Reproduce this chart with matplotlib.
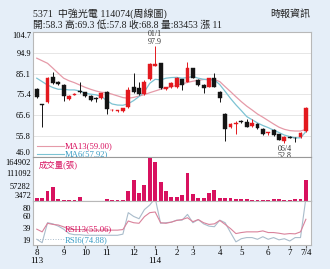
import numpy as np
import matplotlib.pyplot as plt

# weekly candles, 113/08 .. 114/07
opens = [77.8, 70.6, 72.0, 83.4, 81.4, 79.8, 73.1, 75.3, 76.9, 76.4,
         74.7, 73.4, 73.6, 76.7, 67.9, 67.6, 67.6, 69.3, 79.0, 78.3,
         75.6, 82.5, 88.9, 90.0, 77.8, 78.7, 78.7, 82.5, 81.4, 87.7,
         82.2, 79.8, 79.0, 83.2, 76.7, 66.1, 60.3, 61.6, 62.9, 62.3,
         60.6, 61.5, 59.2, 57.2, 58.7, 56.7, 53.5, 55.5, 55.1, 55.3,
         58.3]
closes = [74.3, 70.3, 83.0, 80.9, 80.2, 74.7, 74.7, 75.7, 76.5, 74.7,
          72.8, 73.2, 75.9, 68.4, 68.3, 67.9, 68.9, 77.5, 76.7, 75.5,
          81.4, 89.7, 89.5, 78.3, 78.7, 80.6, 83.0, 79.8, 87.7, 83.2,
          79.8, 78.3, 83.0, 79.0, 73.9, 59.2, 61.4, 62.0, 62.3, 60.3,
          62.1, 59.5, 56.8, 57.6, 56.3, 54.0, 55.5, 55.1, 54.7, 57.4,
          68.8]
highs = [78.5, 70.8, 83.5, 86.1, 81.8, 80.2, 75.2, 76.0, 81.4, 76.6,
         75.0, 74.4, 76.2, 77.2, 68.6, 68.2, 69.2, 79.0, 85.3, 81.4,
         82.0, 90.3, 97.9, 90.2, 79.0, 81.0, 83.4, 82.8, 90.8, 88.0,
         82.5, 80.1, 83.3, 85.6, 77.0, 66.5, 62.0, 63.0, 63.2, 63.8,
         63.8, 61.8, 59.5, 57.9, 59.0, 57.0, 55.8, 55.8, 55.4, 57.7,
         69.3]
lows = [73.8, 60.2, 71.5, 80.5, 79.8, 72.3, 72.6, 75.0, 76.2, 74.3,
        72.5, 71.9, 73.3, 66.2, 67.6, 67.3, 67.3, 69.0, 76.2, 75.0,
        75.2, 82.0, 88.6, 78.0, 77.5, 78.4, 78.4, 77.5, 81.0, 83.0,
        79.5, 75.9, 78.7, 78.7, 72.0, 53.7, 59.8, 57.0, 62.0, 60.0,
        60.3, 59.2, 56.5, 56.1, 56.0, 53.8, 52.8, 54.8, 53.2, 55.0,
        57.8]
ma13 = [92.4, 91.2, 90.0, 87.7, 85.3, 83.0, 81.8, 80.9, 79.8, 78.7,
        77.8, 77.0, 76.4, 76.2, 75.5, 74.7, 73.9, 73.6, 74.0, 74.6,
        75.3, 76.2, 77.0, 77.8, 78.4, 79.0, 79.7, 80.4, 81.0, 81.6,
        82.0, 82.4, 82.5, 82.4, 81.4, 79.0, 76.7, 74.3, 72.0, 69.9,
        68.1, 66.2, 64.7, 63.1, 61.5, 60.0, 59.0, 58.4, 58.2, 58.2,
        59.0]
ma6 = [83.0, 81.4, 79.8, 78.6, 77.8, 77.8, 77.5, 77.5, 77.0, 75.9,
       75.5, 75.2, 74.4, 72.5, 70.9, 70.4, 70.3, 71.0, 72.5, 74.4,
       76.7, 80.6, 82.5, 82.2, 83.0, 83.3, 83.4, 83.0, 83.3, 83.8,
       83.0, 82.5, 82.2, 82.2, 80.0, 76.8, 73.5, 70.5, 67.8, 65.0,
       63.5, 62.0, 60.8, 59.8, 58.6, 57.5, 56.3, 55.6, 55.0, 55.0,
       57.9]
volume = [12000, 13000, 41000, 54000, 8000, 5000, 4000, 2000, 16000, 1500,
          1500, 1500, 1500, 7000, 5000, 4000, 2000, 40000, 82000, 33000,
          64000, 170000, 152000, 73000, 40000, 17000, 17000, 23000, 112000, 29000,
          11000, 11000, 33000, 44000, 11000, 12000, 12000, 7000, 7000, 7000,
          5000, 5000, 3000, 4000, 7000, 7000, 5000, 3000, 7000, 7000,
          83453]
rsi13 = [37.7, 33.0, 48.0, 46.0, 45.0, 41.7, 37.7, 37.0, 37.0, 36.5,
         36.0, 36.0, 36.0, 36.0, 36.0, 36.0, 37.0, 52.0, 49.0, 48.0,
         59.6, 66.6, 67.8, 49.0, 48.0, 50.0, 53.0, 54.5, 57.7, 50.8,
         54.5, 49.0, 46.0, 47.0, 53.0, 46.0, 38.7, 30.0, 31.8, 33.0,
         33.0, 33.0, 34.7, 31.8, 31.8, 30.6, 29.0, 30.0, 29.5, 33.0,
         55.0]
rsi6 = [20.0, 14.0, 49.0, 47.0, 43.0, 37.7, 30.0, 28.0, 28.0, 27.0,
        27.0, 27.0, 27.0, 27.0, 27.0, 27.0, 29.0, 66.6, 60.0, 56.0,
        72.0, 80.0, 92.0, 48.0, 49.0, 50.0, 53.5, 53.5, 63.5, 49.0,
        54.5, 47.0, 43.0, 42.0, 53.5, 49.0, 31.8, 15.5, 21.0, 23.0,
        23.0, 20.0, 24.5, 20.0, 23.0, 19.0, 21.0, 17.0, 23.0, 23.0,
        92.0]

month_ticks = [0, 5, 9, 13, 18, 22, 26, 29, 34, 38, 43, 47, 50]
month_labels = ['8\n113', '9', '10', '11', '12', '1\n114', '2', '3', '4',
                '5', '6', '7', '7/4']
price_ticks = [46.0, 55.8, 65.6, 75.4, 85.1, 94.9, 104.7]
vol_ticks = [3472, 57282, 111092, 164902]
rsi_ticks = [19, 39, 60, 80]

FONT = ['Liberation Serif', 'Noto Sans CJK TC']
plt.rcParams['font.family'] = FONT
RED = '#e3191f'
BLK = '#141414'
PINK = '#d8115f'
BLUE = '#3a9cc4'
BG = '#e5eef8'
FRAME = '#b8b8b8'

fig = plt.figure(figsize=(3.3, 2.69), dpi=100, facecolor=BG)
L, R = 33 / 330, 311 / 330
def yf(p):
    return 1 - p / 269

ax1 = fig.add_axes([L, yf(157), R - L, yf(32) - yf(157)])
ax2 = fig.add_axes([L, yf(201), R - L, yf(157) - yf(201)])
ax3 = fig.add_axes([L, yf(245), R - L, yf(201) - yf(245)])

x = np.arange(len(closes))
o = np.array(opens)
c = np.array(closes)
up = c >= o
cols = np.where(up, RED, BLK)

for ax in (ax1, ax2, ax3):
    ax.set_facecolor('white')
    ax.set_xlim(-0.7, 50.95)
    for s in ax.spines.values():
        s.set_color(FRAME)
        s.set_linewidth(0.8)
    ax.tick_params(axis='y', length=0, pad=1.5, labelsize=6)
    ax.tick_params(axis='x', length=0)
    ax.set_xticks([])

# price panel
ax1.set_ylim(46.0, 104.7)
ax1.set_yticks(price_ticks)
ax1.set_yticklabels(['%.1f' % t for t in price_ticks])
for t in price_ticks[1:-1]:
    ax1.axhline(t, color='#e2e2e2', lw=0.6, zorder=0)
ax1.plot(x, ma13, color='#e59aa8', lw=0.9, zorder=1)
ax1.plot(x, ma6, color='#7cc3d3', lw=0.9, zorder=1)
ax1.vlines(x, lows, highs, colors=cols, lw=0.7, zorder=2)
h = np.where(np.abs(c - o) < 0.35, 0.35, c - o)
ax1.bar(x, h, bottom=o, width=0.72, color=cols, edgecolor=cols, lw=0.3, zorder=3)

hi_i = int(np.argmax(highs))
lo_i = int(np.argmin(lows))
ax1.text(hi_i, highs[hi_i] + 0.3, '01/1\n%.1f' % highs[hi_i], ha='center', va='bottom',
         fontsize=5.8, linespacing=0.9, color='#333333')
ax1.text(lo_i, lows[lo_i] - 1.0, '06/4\n%.1f' % lows[lo_i], ha='center', va='top',
         fontsize=5.8, linespacing=0.9, color='#333333', clip_on=False)

ax1.plot([0.015, 0.11], [0.09, 0.09], transform=ax1.transAxes, color='#e59aa8', lw=0.8)
ax1.plot([0.015, 0.11], [0.025, 0.025], transform=ax1.transAxes, color='#7cc3d3', lw=0.8)
ax1.text(0.115, 0.09, 'MA13(59.00)', transform=ax1.transAxes, fontsize=6.2,
         color=PINK, va='center')
ax1.text(0.115, 0.022, 'MA6(57.92)', transform=ax1.transAxes, fontsize=6.2,
         color=BLUE, va='center')

# volume panel
ax2.set_ylim(0, 173600)
ax2.set_yticks(vol_ticks)
ax2.set_yticklabels([str(v) for v in vol_ticks])
ax2.bar(x, volume, width=0.72, color=PINK, zorder=2)
ax2.text(0.02, 0.83, '成交量(張)', transform=ax2.transAxes, fontsize=6,
         color=PINK, va='center')
ax2.spines['top'].set_color('#999999')
ax2.spines['bottom'].set_color('#999999')

# rsi panel
ax3.set_ylim(10, 87)
ax3.set_yticks(rsi_ticks)
ax3.set_yticklabels([str(v) for v in rsi_ticks])
ax3.plot(x, rsi6, color='#a9bccb', lw=0.8, zorder=2)
ax3.plot(x, rsi13, color='#d9829b', lw=0.8, zorder=3)
ax3.plot([0.015, 0.11], [0.13, 0.13], transform=ax3.transAxes, color='#a9bccb',
         lw=0.7, ls=':')
ax3.text(0.115, 0.37, 'RSI13(55.06)', transform=ax3.transAxes, fontsize=6.2,
         color=PINK, va='center')
ax3.text(0.115, 0.12, 'RSI6(74.88)', transform=ax3.transAxes, fontsize=6.2,
         color=BLUE, va='center')
ax3.set_xticks(month_ticks)
ax3.set_xticklabels(month_labels, fontsize=6.5, linespacing=1.05)
ax3.tick_params(axis='x', length=2, pad=1, color='#666666')

# keep edge tick labels inside their own panel
for ax in (ax1, ax2):
    labs = ax.get_yticklabels()
    labs[0].set_va('bottom')
    labs[-1].set_va('top')
ax3.get_yticklabels()[-1].set_va('top')

fig.text(33 / 330, yf(14), '5371  中強光電 114074(周線圖)', fontsize=7.2,
         va='center', ha='left', color='#222222')
fig.text(33 / 330, yf(25.5),
         '開:%.1f 高:%.1f 低:%.1f 收:%.1f 量:%d 漲 11' % (opens[-1], highs[-1], lows[-1],
                                                   closes[-1], volume[-1]),
         fontsize=7, va='center', ha='left', color='#222222')
fig.text(310 / 330, yf(14), '時報資訊', fontsize=7.2, va='center', ha='right',
         color='#222222')

fig.savefig('out.png', dpi=100, facecolor=BG)
